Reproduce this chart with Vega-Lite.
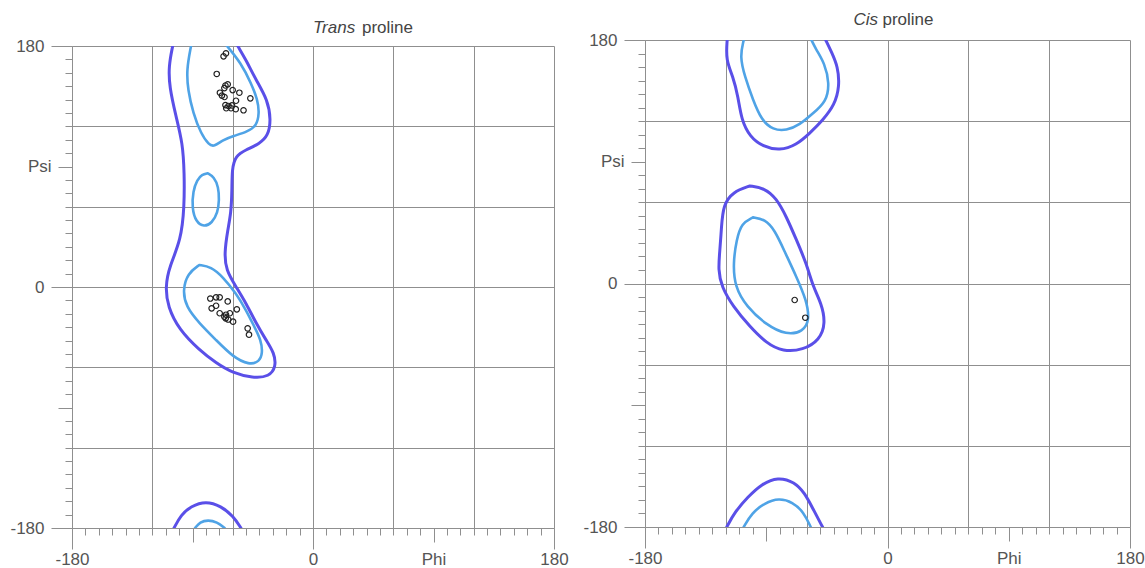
{
  "$schema": "https://vega.github.io/schema/vega-lite/v6.json",
  "background": "white",
  "padding": {"left": 9, "top": 11, "right": 0, "bottom": 0},
  "spacing": 13,
  "config": {"view": {"stroke": null}, "font": "Liberation Sans"},
  "datasets": {
    "contours": [
      {"p":"trans","c":"t_o1","lvl":"outer","o":0,"phi":-104.8,"psi":180},
      {"p":"trans","c":"t_o1","lvl":"outer","o":1,"phi":-107.8,"psi":165},
      {"p":"trans","c":"t_o1","lvl":"outer","o":2,"phi":-107.3,"psi":149.6},
      {"p":"trans","c":"t_o1","lvl":"outer","o":3,"phi":-102.3,"psi":127.2},
      {"p":"trans","c":"t_o1","lvl":"outer","o":4,"phi":-97.3,"psi":107.3},
      {"p":"trans","c":"t_o1","lvl":"outer","o":5,"phi":-96.1,"psi":85.1},
      {"p":"trans","c":"t_o1","lvl":"outer","o":6,"phi":-96.1,"psi":59.7},
      {"p":"trans","c":"t_o1","lvl":"outer","o":7,"phi":-98.6,"psi":35.1},
      {"p":"trans","c":"t_o1","lvl":"outer","o":8,"phi":-107.3,"psi":15.2},
      {"p":"trans","c":"t_o1","lvl":"outer","o":9,"phi":-110.3,"psi":0.2},
      {"p":"trans","c":"t_o1","lvl":"outer","o":10,"phi":-108.5,"psi":-14.7},
      {"p":"trans","c":"t_o1","lvl":"outer","o":11,"phi":-99.9,"psi":-32.1},
      {"p":"trans","c":"t_o1","lvl":"outer","o":12,"phi":-84.9,"psi":-47.1},
      {"p":"trans","c":"t_o1","lvl":"outer","o":13,"phi":-72.4,"psi":-56.8},
      {"p":"trans","c":"t_o1","lvl":"outer","o":14,"phi":-60,"psi":-64.2},
      {"p":"trans","c":"t_o1","lvl":"outer","o":15,"phi":-45,"psi":-68},
      {"p":"trans","c":"t_o1","lvl":"outer","o":16,"phi":-32.6,"psi":-67},
      {"p":"trans","c":"t_o1","lvl":"outer","o":17,"phi":-27.6,"psi":-59.5},
      {"p":"trans","c":"t_o1","lvl":"outer","o":18,"phi":-28.9,"psi":-49.3},
      {"p":"trans","c":"t_o1","lvl":"outer","o":19,"phi":-35.1,"psi":-39.6},
      {"p":"trans","c":"t_o1","lvl":"outer","o":20,"phi":-42.6,"psi":-26.9},
      {"p":"trans","c":"t_o1","lvl":"outer","o":21,"phi":-50,"psi":-12},
      {"p":"trans","c":"t_o1","lvl":"outer","o":22,"phi":-57.5,"psi":0.2},
      {"p":"trans","c":"t_o1","lvl":"outer","o":23,"phi":-65,"psi":12.7},
      {"p":"trans","c":"t_o1","lvl":"outer","o":24,"phi":-66.2,"psi":25.4},
      {"p":"trans","c":"t_o1","lvl":"outer","o":25,"phi":-63.7,"psi":42.6},
      {"p":"trans","c":"t_o1","lvl":"outer","o":26,"phi":-61.2,"psi":55.3},
      {"p":"trans","c":"t_o1","lvl":"outer","o":27,"phi":-60.5,"psi":72.4},
      {"p":"trans","c":"t_o1","lvl":"outer","o":28,"phi":-60.5,"psi":88},
      {"p":"trans","c":"t_o1","lvl":"outer","o":29,"phi":-58,"psi":98},
      {"p":"trans","c":"t_o1","lvl":"outer","o":30,"phi":-50,"psi":102.5},
      {"p":"trans","c":"t_o1","lvl":"outer","o":31,"phi":-40,"psi":107},
      {"p":"trans","c":"t_o1","lvl":"outer","o":32,"phi":-33.5,"psi":113},
      {"p":"trans","c":"t_o1","lvl":"outer","o":33,"phi":-31.4,"psi":124.7},
      {"p":"trans","c":"t_o1","lvl":"outer","o":34,"phi":-33.8,"psi":139.7},
      {"p":"trans","c":"t_o1","lvl":"outer","o":35,"phi":-42.6,"psi":154.6},
      {"p":"trans","c":"t_o1","lvl":"outer","o":36,"phi":-50,"psi":169.5},
      {"p":"trans","c":"t_o1","lvl":"outer","o":37,"phi":-56.2,"psi":180},

      {"p":"trans","c":"t_o2","lvl":"outer","o":0,"phi":-103.8,"psi":-180},
      {"p":"trans","c":"t_o2","lvl":"outer","o":1,"phi":-98.6,"psi":-170.3},
      {"p":"trans","c":"t_o2","lvl":"outer","o":2,"phi":-91.1,"psi":-163.6},
      {"p":"trans","c":"t_o2","lvl":"outer","o":3,"phi":-80,"psi":-159.8},
      {"p":"trans","c":"t_o2","lvl":"outer","o":4,"phi":-68.7,"psi":-163.6},
      {"p":"trans","c":"t_o2","lvl":"outer","o":5,"phi":-59.7,"psi":-171},
      {"p":"trans","c":"t_o2","lvl":"outer","o":6,"phi":-53.8,"psi":-180},

      {"p":"trans","c":"t_i1","lvl":"inner","o":0,"phi":-91.1,"psi":180},
      {"p":"trans","c":"t_i1","lvl":"inner","o":1,"phi":-94.5,"psi":162.1},
      {"p":"trans","c":"t_i1","lvl":"inner","o":2,"phi":-93.4,"psi":147.1},
      {"p":"trans","c":"t_i1","lvl":"inner","o":3,"phi":-89.6,"psi":130},
      {"p":"trans","c":"t_i1","lvl":"inner","o":4,"phi":-83.6,"psi":114.3},
      {"p":"trans","c":"t_i1","lvl":"inner","o":5,"phi":-77.7,"psi":106.1},
      {"p":"trans","c":"t_i1","lvl":"inner","o":6,"phi":-73.9,"psi":104.8},
      {"p":"trans","c":"t_i1","lvl":"inner","o":7,"phi":-67.2,"psi":109.8},
      {"p":"trans","c":"t_i1","lvl":"inner","o":8,"phi":-59.7,"psi":112.8},
      {"p":"trans","c":"t_i1","lvl":"inner","o":9,"phi":-49.3,"psi":115.8},
      {"p":"trans","c":"t_i1","lvl":"inner","o":10,"phi":-42.2,"psi":120.2},
      {"p":"trans","c":"t_i1","lvl":"inner","o":11,"phi":-40.1,"psi":129.7},
      {"p":"trans","c":"t_i1","lvl":"inner","o":12,"phi":-41.3,"psi":139.7},
      {"p":"trans","c":"t_i1","lvl":"inner","o":13,"phi":-46.3,"psi":152.4},
      {"p":"trans","c":"t_i1","lvl":"inner","o":14,"phi":-53.8,"psi":167.3},
      {"p":"trans","c":"t_i1","lvl":"inner","o":15,"phi":-64.2,"psi":180},

      {"p":"trans","c":"t_i2","lvl":"inner","o":0,"phi":-88.1,"psi":-180},
      {"p":"trans","c":"t_i2","lvl":"inner","o":1,"phi":-84.4,"psi":-175.5},
      {"p":"trans","c":"t_i2","lvl":"inner","o":2,"phi":-78.4,"psi":-174},
      {"p":"trans","c":"t_i2","lvl":"inner","o":3,"phi":-71.7,"psi":-175.5},
      {"p":"trans","c":"t_i2","lvl":"inner","o":4,"phi":-66,"psi":-180},

      {"p":"trans","c":"t_i3","lvl":"inner","o":0,"phi":-78.6,"psi":84.9},
      {"p":"trans","c":"t_i3","lvl":"inner","o":1,"phi":-73.9,"psi":82.2},
      {"p":"trans","c":"t_i3","lvl":"inner","o":2,"phi":-70.6,"psi":74.7},
      {"p":"trans","c":"t_i3","lvl":"inner","o":3,"phi":-70,"psi":65},
      {"p":"trans","c":"t_i3","lvl":"inner","o":4,"phi":-71.2,"psi":55.3},
      {"p":"trans","c":"t_i3","lvl":"inner","o":5,"phi":-75.4,"psi":47.8},
      {"p":"trans","c":"t_i3","lvl":"inner","o":6,"phi":-81.4,"psi":44.8},
      {"p":"trans","c":"t_i3","lvl":"inner","o":7,"phi":-87.4,"psi":48.5},
      {"p":"trans","c":"t_i3","lvl":"inner","o":8,"phi":-90.4,"psi":59},
      {"p":"trans","c":"t_i3","lvl":"inner","o":9,"phi":-89.6,"psi":71.7},
      {"p":"trans","c":"t_i3","lvl":"inner","o":10,"phi":-86.6,"psi":80},
      {"p":"trans","c":"t_i3","lvl":"inner","o":11,"phi":-82.9,"psi":84},
      {"p":"trans","c":"t_i3","lvl":"inner","o":12,"phi":-78.6,"psi":84.9},

      {"p":"trans","c":"t_i4","lvl":"inner","o":0,"phi":-84.9,"psi":16.4},
      {"p":"trans","c":"t_i4","lvl":"inner","o":1,"phi":-93.6,"psi":10.2},
      {"p":"trans","c":"t_i4","lvl":"inner","o":2,"phi":-97.3,"psi":-2.2},
      {"p":"trans","c":"t_i4","lvl":"inner","o":3,"phi":-94.9,"psi":-14.7},
      {"p":"trans","c":"t_i4","lvl":"inner","o":4,"phi":-84.9,"psi":-27.1},
      {"p":"trans","c":"t_i4","lvl":"inner","o":5,"phi":-72.4,"psi":-39.6},
      {"p":"trans","c":"t_i4","lvl":"inner","o":6,"phi":-60,"psi":-52.1},
      {"p":"trans","c":"t_i4","lvl":"inner","o":7,"phi":-47.6,"psi":-58.3},
      {"p":"trans","c":"t_i4","lvl":"inner","o":8,"phi":-40.1,"psi":-55.8},
      {"p":"trans","c":"t_i4","lvl":"inner","o":9,"phi":-37.6,"psi":-49.5},
      {"p":"trans","c":"t_i4","lvl":"inner","o":10,"phi":-38.8,"psi":-39.6},
      {"p":"trans","c":"t_i4","lvl":"inner","o":11,"phi":-43.8,"psi":-29.7},
      {"p":"trans","c":"t_i4","lvl":"inner","o":12,"phi":-50,"psi":-17.2},
      {"p":"trans","c":"t_i4","lvl":"inner","o":13,"phi":-57.5,"psi":-4.7},
      {"p":"trans","c":"t_i4","lvl":"inner","o":14,"phi":-67.4,"psi":7.7},
      {"p":"trans","c":"t_i4","lvl":"inner","o":15,"phi":-76.2,"psi":15.2},
      {"p":"trans","c":"t_i4","lvl":"inner","o":16,"phi":-84.9,"psi":16.4},

      {"p":"cis","c":"c_o1","lvl":"outer","o":0,"phi":-119,"psi":180},
      {"p":"cis","c":"c_o1","lvl":"outer","o":1,"phi":-120,"psi":165.2},
      {"p":"cis","c":"c_o1","lvl":"outer","o":2,"phi":-114.6,"psi":152.9},
      {"p":"cis","c":"c_o1","lvl":"outer","o":3,"phi":-110.9,"psi":138.1},
      {"p":"cis","c":"c_o1","lvl":"outer","o":4,"phi":-108.4,"psi":120.9},
      {"p":"cis","c":"c_o1","lvl":"outer","o":5,"phi":-102.2,"psi":108.5},
      {"p":"cis","c":"c_o1","lvl":"outer","o":6,"phi":-92.4,"psi":101.1},
      {"p":"cis","c":"c_o1","lvl":"outer","o":7,"phi":-80,"psi":98.2},
      {"p":"cis","c":"c_o1","lvl":"outer","o":8,"phi":-67.6,"psi":102.4},
      {"p":"cis","c":"c_o1","lvl":"outer","o":9,"phi":-57.8,"psi":111},
      {"p":"cis","c":"c_o1","lvl":"outer","o":10,"phi":-47.9,"psi":120.9},
      {"p":"cis","c":"c_o1","lvl":"outer","o":11,"phi":-39.3,"psi":132},
      {"p":"cis","c":"c_o1","lvl":"outer","o":12,"phi":-35.6,"psi":145.5},
      {"p":"cis","c":"c_o1","lvl":"outer","o":13,"phi":-36.8,"psi":160.3},
      {"p":"cis","c":"c_o1","lvl":"outer","o":14,"phi":-41.7,"psi":171.4},
      {"p":"cis","c":"c_o1","lvl":"outer","o":15,"phi":-45.9,"psi":180},

      {"p":"cis","c":"c_o2","lvl":"outer","o":0,"phi":-119.3,"psi":-180},
      {"p":"cis","c":"c_o2","lvl":"outer","o":1,"phi":-113.3,"psi":-168.9},
      {"p":"cis","c":"c_o2","lvl":"outer","o":2,"phi":-103.7,"psi":-157.8},
      {"p":"cis","c":"c_o2","lvl":"outer","o":3,"phi":-93.3,"psi":-148.2},
      {"p":"cis","c":"c_o2","lvl":"outer","o":4,"phi":-81.5,"psi":-143},
      {"p":"cis","c":"c_o2","lvl":"outer","o":5,"phi":-68.9,"psi":-146.7},
      {"p":"cis","c":"c_o2","lvl":"outer","o":6,"phi":-61.5,"psi":-154.9},
      {"p":"cis","c":"c_o2","lvl":"outer","o":7,"phi":-55.6,"psi":-166},
      {"p":"cis","c":"c_o2","lvl":"outer","o":8,"phi":-48.2,"psi":-180},

      {"p":"cis","c":"c_i1","lvl":"inner","o":0,"phi":-106.7,"psi":180},
      {"p":"cis","c":"c_i1","lvl":"inner","o":1,"phi":-109.6,"psi":167.7},
      {"p":"cis","c":"c_i1","lvl":"inner","o":2,"phi":-105.9,"psi":152.9},
      {"p":"cis","c":"c_i1","lvl":"inner","o":3,"phi":-99.8,"psi":135.6},
      {"p":"cis","c":"c_i1","lvl":"inner","o":4,"phi":-93.6,"psi":120.9},
      {"p":"cis","c":"c_i1","lvl":"inner","o":5,"phi":-85,"psi":113.5},
      {"p":"cis","c":"c_i1","lvl":"inner","o":6,"phi":-75,"psi":113},
      {"p":"cis","c":"c_i1","lvl":"inner","o":7,"phi":-65.2,"psi":117.2},
      {"p":"cis","c":"c_i1","lvl":"inner","o":8,"phi":-55.3,"psi":125.8},
      {"p":"cis","c":"c_i1","lvl":"inner","o":9,"phi":-45.4,"psi":134.4},
      {"p":"cis","c":"c_i1","lvl":"inner","o":10,"phi":-43,"psi":148},
      {"p":"cis","c":"c_i1","lvl":"inner","o":11,"phi":-46.7,"psi":162.8},
      {"p":"cis","c":"c_i1","lvl":"inner","o":12,"phi":-52.8,"psi":172.6},
      {"p":"cis","c":"c_i1","lvl":"inner","o":13,"phi":-56.5,"psi":180},

      {"p":"cis","c":"c_i2","lvl":"inner","o":0,"phi":-106.7,"psi":-180},
      {"p":"cis","c":"c_i2","lvl":"inner","o":1,"phi":-100.7,"psi":-169.6},
      {"p":"cis","c":"c_i2","lvl":"inner","o":2,"phi":-91.1,"psi":-162.2},
      {"p":"cis","c":"c_i2","lvl":"inner","o":3,"phi":-80.7,"psi":-158.6},
      {"p":"cis","c":"c_i2","lvl":"inner","o":4,"phi":-70.4,"psi":-161.5},
      {"p":"cis","c":"c_i2","lvl":"inner","o":5,"phi":-62.2,"psi":-169},
      {"p":"cis","c":"c_i2","lvl":"inner","o":6,"phi":-57,"psi":-180},

      {"p":"cis","c":"c_o3","lvl":"outer","o":0,"phi":-102.2,"psi":72.1},
      {"p":"cis","c":"c_o3","lvl":"outer","o":1,"phi":-114.6,"psi":67.9},
      {"p":"cis","c":"c_o3","lvl":"outer","o":2,"phi":-122,"psi":58},
      {"p":"cis","c":"c_o3","lvl":"outer","o":3,"phi":-123.2,"psi":42},
      {"p":"cis","c":"c_o3","lvl":"outer","o":4,"phi":-124.4,"psi":24.8},
      {"p":"cis","c":"c_o3","lvl":"outer","o":5,"phi":-125.7,"psi":10},
      {"p":"cis","c":"c_o3","lvl":"outer","o":6,"phi":-123.2,"psi":-2.4},
      {"p":"cis","c":"c_o3","lvl":"outer","o":7,"phi":-114.6,"psi":-17.1},
      {"p":"cis","c":"c_o3","lvl":"outer","o":8,"phi":-102.2,"psi":-31.9},
      {"p":"cis","c":"c_o3","lvl":"outer","o":9,"phi":-89.9,"psi":-44.2},
      {"p":"cis","c":"c_o3","lvl":"outer","o":10,"phi":-77.6,"psi":-50.4},
      {"p":"cis","c":"c_o3","lvl":"outer","o":11,"phi":-62.7,"psi":-49.2},
      {"p":"cis","c":"c_o3","lvl":"outer","o":12,"phi":-50.4,"psi":-41.8},
      {"p":"cis","c":"c_o3","lvl":"outer","o":13,"phi":-45.9,"psi":-29.4},
      {"p":"cis","c":"c_o3","lvl":"outer","o":14,"phi":-49.1,"psi":-14.6},
      {"p":"cis","c":"c_o3","lvl":"outer","o":15,"phi":-55.3,"psi":-2.4},
      {"p":"cis","c":"c_o3","lvl":"outer","o":16,"phi":-60.2,"psi":14.9},
      {"p":"cis","c":"c_o3","lvl":"outer","o":17,"phi":-67.6,"psi":32.2},
      {"p":"cis","c":"c_o3","lvl":"outer","o":18,"phi":-75,"psi":49.4},
      {"p":"cis","c":"c_o3","lvl":"outer","o":19,"phi":-82.5,"psi":63},
      {"p":"cis","c":"c_o3","lvl":"outer","o":20,"phi":-91.1,"psi":70.4},
      {"p":"cis","c":"c_o3","lvl":"outer","o":21,"phi":-102.2,"psi":72.1},

      {"p":"cis","c":"c_i3","lvl":"inner","o":0,"phi":-99.8,"psi":48.9},
      {"p":"cis","c":"c_i3","lvl":"inner","o":1,"phi":-108.4,"psi":44.5},
      {"p":"cis","c":"c_i3","lvl":"inner","o":2,"phi":-112.1,"psi":32.2},
      {"p":"cis","c":"c_i3","lvl":"inner","o":3,"phi":-114.6,"psi":14.9},
      {"p":"cis","c":"c_i3","lvl":"inner","o":4,"phi":-113.3,"psi":-2.4},
      {"p":"cis","c":"c_i3","lvl":"inner","o":5,"phi":-104.7,"psi":-17.1},
      {"p":"cis","c":"c_i3","lvl":"inner","o":6,"phi":-89.9,"psi":-30.7},
      {"p":"cis","c":"c_i3","lvl":"inner","o":7,"phi":-75,"psi":-38.1},
      {"p":"cis","c":"c_i3","lvl":"inner","o":8,"phi":-62.7,"psi":-35.6},
      {"p":"cis","c":"c_i3","lvl":"inner","o":9,"phi":-57.8,"psi":-27},
      {"p":"cis","c":"c_i3","lvl":"inner","o":10,"phi":-60.2,"psi":-12.2},
      {"p":"cis","c":"c_i3","lvl":"inner","o":11,"phi":-67.6,"psi":5},
      {"p":"cis","c":"c_i3","lvl":"inner","o":12,"phi":-76.3,"psi":23.5},
      {"p":"cis","c":"c_i3","lvl":"inner","o":13,"phi":-83.7,"psi":39.6},
      {"p":"cis","c":"c_i3","lvl":"inner","o":14,"phi":-91.1,"psi":47.5},
      {"p":"cis","c":"c_i3","lvl":"inner","o":15,"phi":-99.8,"psi":48.9}
    ],
    "points": [
      {"p":"trans","phi":-65,"psi":174.5},
      {"p":"trans","phi":-66.8,"psi":172.3},
      {"p":"trans","phi":-71.9,"psi":159.1},
      {"p":"trans","phi":-65.4,"psi":150.5},
      {"p":"trans","phi":-63.7,"psi":151.4},
      {"p":"trans","phi":-66.2,"psi":148.6},
      {"p":"trans","phi":-69.5,"psi":145.1},
      {"p":"trans","phi":-60,"psi":147.1},
      {"p":"trans","phi":-55,"psi":145.1},
      {"p":"trans","phi":-46.8,"psi":140.9},
      {"p":"trans","phi":-68,"psi":143},
      {"p":"trans","phi":-66.1,"psi":141.9},
      {"p":"trans","phi":-57.5,"psi":139.1},
      {"p":"trans","phi":-65.4,"psi":135.9},
      {"p":"trans","phi":-63.1,"psi":135.2},
      {"p":"trans","phi":-60.5,"psi":135.6},
      {"p":"trans","phi":-64.8,"psi":133.5},
      {"p":"trans","phi":-61.2,"psi":133.5},
      {"p":"trans","phi":-57.7,"psi":132.8},
      {"p":"trans","phi":-51.9,"psi":132},
      {"p":"trans","phi":-76.7,"psi":-8.6},
      {"p":"trans","phi":-72.4,"psi":-7.7},
      {"p":"trans","phi":-69.7,"psi":-7.7},
      {"p":"trans","phi":-63.7,"psi":-10.8},
      {"p":"trans","phi":-75.7,"psi":-15.9},
      {"p":"trans","phi":-72.4,"psi":-14},
      {"p":"trans","phi":-56.9,"psi":-16.7},
      {"p":"trans","phi":-69.7,"psi":-19.6},
      {"p":"trans","phi":-65,"psi":-20.7},
      {"p":"trans","phi":-62.1,"psi":-19.6},
      {"p":"trans","phi":-65.2,"psi":-23.4},
      {"p":"trans","phi":-63.3,"psi":-24.3},
      {"p":"trans","phi":-59.7,"psi":-25.9},
      {"p":"trans","phi":-66.2,"psi":-22.2},
      {"p":"trans","phi":-48.8,"psi":-30.9},
      {"p":"trans","phi":-47.8,"psi":-35.6},
      {"p":"cis","phi":-68.9,"psi":-12.2},
      {"p":"cis","phi":-61,"psi":-25.3}
    ],
    "titles": [{"one": 1}],
    "empty": []
  },
  "hconcat": [
    {
      "spacing": -22,
      "vconcat": [
        {
          "width": 482,
          "height": 1,
          "data": {"name": "empty"},
          "mark": {"type": "point", "opacity": 0},
          "encoding": {}
        },
        {
          "width": 482,
          "height": 482,
          "layer": [
            {
              "data": {"name": "contours"},
              "transform": [{"filter": "datum.p === 'trans'"}],
              "mark": {"type": "line", "clip": true, "strokeCap": "round", "strokeJoin": "round", "interpolate": "basis"},
              "encoding": {
                "x": {"field": "phi", "type": "quantitative", "scale": {"domain": [-180, 180], "nice": false, "zero": false},
                  "axis": {"values": [-180,-170,-160,-150,-140,-130,-120,-110,-100,-90,-80,-70,-60,-50,-40,-30,-20,-10,0,10,20,30,40,50,60,70,80,90,100,110,120,130,140,150,160,170,180],
                    "tickCount": 100,
                    "title": null, "grid": true, "gridColor": "#8f8f8f", "gridWidth": 1,
                    "gridOpacity": {"condition": {"test": "datum.value % 60 === 0", "value": 1}, "value": 0},
                    "tickSize": {"condition": [{"test": "datum.value === 0 || abs(datum.value) === 180", "value": 21}, {"test": "abs(datum.value) === 90", "value": 14}], "value": 7},
                    "labelPadding": {"condition": {"test": "datum.value === 90", "value": 9}, "value": 2},
                    "labelExpr": "datum.value === 90 ? 'Phi' : datum.value === -180 ? '-180' : datum.value === 0 ? '0' : datum.value === 180 ? '180' : ''",
                    "labelOverlap": false, "labelFlush": false, "labelBound": false,
                    "domainColor": "#8f8f8f", "tickColor": "#8f8f8f", "labelColor": "#555555", "labelFontSize": 17, "labelFont": "Liberation Sans"}},
                "y": {"field": "psi", "type": "quantitative", "scale": {"domain": [-180, 180], "nice": false, "zero": false},
                  "axis": {"values": [-180,-170,-160,-150,-140,-130,-120,-110,-100,-90,-80,-70,-60,-50,-40,-30,-20,-10,0,10,20,30,40,50,60,70,80,90,100,110,120,130,140,150,160,170,180],
                    "tickCount": 100,
                    "title": null, "grid": true, "gridColor": "#8f8f8f", "gridWidth": 1,
                    "gridOpacity": {"condition": {"test": "datum.value % 60 === 0", "value": 1}, "value": 0},
                    "tickSize": {"condition": [{"test": "datum.value === 0 || abs(datum.value) === 180", "value": 21}, {"test": "abs(datum.value) === 90", "value": 14}], "value": 7},
                    "labelPadding": 7,
                    "labelExpr": "datum.value === 90 ? 'Psi' : datum.value === -180 ? '-180' : datum.value === 0 ? '0' : datum.value === 180 ? '180' : ''",
                    "labelOverlap": false, "labelFlush": false, "labelBound": false,
                    "domainColor": "#8f8f8f", "tickColor": "#8f8f8f", "labelColor": "#555555", "labelFontSize": 17, "labelFont": "Liberation Sans"}},
                "detail": {"field": "c"},
                "order": {"field": "o"},
                "color": {"field": "lvl", "type": "nominal", "scale": {"domain": ["outer", "inner"], "range": ["#5a4fe8", "#4fa3e6"]}, "legend": null},
                "strokeWidth": {"field": "lvl", "type": "nominal", "scale": {"domain": ["outer", "inner"], "range": [3, 2.6]}, "legend": null}
              }
            },
            {
              "data": {"name": "points"},
              "transform": [{"filter": "datum.p === 'trans'"}],
              "mark": {"type": "point", "shape": "circle", "filled": false, "size": 30, "stroke": "#222222", "strokeWidth": 1.2, "opacity": 1},
              "encoding": {
                "x": {"field": "phi", "type": "quantitative"},
                "y": {"field": "psi", "type": "quantitative"}
              }
            },
            {
              "data": {"name": "titles"},
              "mark": {"type": "text", "text": "Trans", "fontStyle": "italic", "align": "left", "baseline": "alphabetic", "dy": -13, "fontSize": 17, "color": "#444444", "font": "Liberation Sans"},
              "encoding": {"x": {"datum": 0}, "y": {"datum": 180}}
            },
            {
              "data": {"name": "titles"},
              "mark": {"type": "text", "text": "proline", "align": "left", "baseline": "alphabetic", "dx": 49, "dy": -13, "fontSize": 17, "color": "#444444", "font": "Liberation Sans"},
              "encoding": {"x": {"datum": 0}, "y": {"datum": 180}}
            }
          ]
        }
      ]
    },
    {
      "width": 485,
      "height": 487,
      "layer": [
        {
          "data": {"name": "contours"},
          "transform": [{"filter": "datum.p === 'cis'"}],
          "mark": {"type": "line", "clip": true, "strokeCap": "round", "strokeJoin": "round", "interpolate": "basis"},
          "encoding": {
            "x": {"field": "phi", "type": "quantitative", "scale": {"domain": [-180, 180], "nice": false, "zero": false},
              "axis": {"values": [-180,-170,-160,-150,-140,-130,-120,-110,-100,-90,-80,-70,-60,-50,-40,-30,-20,-10,0,10,20,30,40,50,60,70,80,90,100,110,120,130,140,150,160,170,180],
                "tickCount": 100,
                "title": null, "grid": true, "gridColor": "#8f8f8f", "gridWidth": 1,
                "gridOpacity": {"condition": {"test": "datum.value % 60 === 0", "value": 1}, "value": 0},
                "tickSize": {"condition": [{"test": "datum.value === 0 || abs(datum.value) === 180", "value": 21}, {"test": "abs(datum.value) === 90", "value": 14}], "value": 7},
                "labelPadding": {"condition": {"test": "datum.value === 90", "value": 9}, "value": 2},
                "labelExpr": "datum.value === 90 ? 'Phi' : datum.value === -180 ? '-180' : datum.value === 0 ? '0' : datum.value === 180 ? '180' : ''",
                "labelOverlap": false, "labelFlush": false, "labelBound": false,
                "domainColor": "#8f8f8f", "tickColor": "#8f8f8f", "labelColor": "#555555", "labelFontSize": 17, "labelFont": "Liberation Sans"}},
            "y": {"field": "psi", "type": "quantitative", "scale": {"domain": [-180, 180], "nice": false, "zero": false},
              "axis": {"values": [-180,-170,-160,-150,-140,-130,-120,-110,-100,-90,-80,-70,-60,-50,-40,-30,-20,-10,0,10,20,30,40,50,60,70,80,90,100,110,120,130,140,150,160,170,180],
                "tickCount": 100,
                "title": null, "grid": true, "gridColor": "#8f8f8f", "gridWidth": 1,
                "gridOpacity": {"condition": {"test": "datum.value % 60 === 0", "value": 1}, "value": 0},
                "tickSize": {"condition": [{"test": "datum.value === 0 || abs(datum.value) === 180", "value": 21}, {"test": "abs(datum.value) === 90", "value": 14}], "value": 7},
                "labelPadding": 7,
                "labelExpr": "datum.value === 90 ? 'Psi' : datum.value === -180 ? '-180' : datum.value === 0 ? '0' : datum.value === 180 ? '180' : ''",
                "labelOverlap": false, "labelFlush": false, "labelBound": false,
                "domainColor": "#8f8f8f", "tickColor": "#8f8f8f", "labelColor": "#555555", "labelFontSize": 17, "labelFont": "Liberation Sans"}},
            "detail": {"field": "c"},
            "order": {"field": "o"},
            "color": {"field": "lvl", "type": "nominal", "scale": {"domain": ["outer", "inner"], "range": ["#5a4fe8", "#4fa3e6"]}, "legend": null},
            "strokeWidth": {"field": "lvl", "type": "nominal", "scale": {"domain": ["outer", "inner"], "range": [3, 2.6]}, "legend": null}
          }
        },
        {
          "data": {"name": "points"},
          "transform": [{"filter": "datum.p === 'cis'"}],
          "mark": {"type": "point", "shape": "circle", "filled": false, "size": 30, "stroke": "#222222", "strokeWidth": 1.2, "opacity": 1},
          "encoding": {
            "x": {"field": "phi", "type": "quantitative"},
            "y": {"field": "psi", "type": "quantitative"}
          }
        },
        {
          "data": {"name": "titles"},
          "mark": {"type": "text", "text": "Cis", "fontStyle": "italic", "align": "left", "baseline": "alphabetic", "dx": -34, "dy": -15, "fontSize": 17, "color": "#444444", "font": "Liberation Sans"},
          "encoding": {"x": {"datum": 0}, "y": {"datum": 180}}
        },
        {
          "data": {"name": "titles"},
          "mark": {"type": "text", "text": "proline", "align": "left", "baseline": "alphabetic", "dx": -5, "dy": -15, "fontSize": 17, "color": "#444444", "font": "Liberation Sans"},
          "encoding": {"x": {"datum": 0}, "y": {"datum": 180}}
        }
      ]
    }
  ]
}
